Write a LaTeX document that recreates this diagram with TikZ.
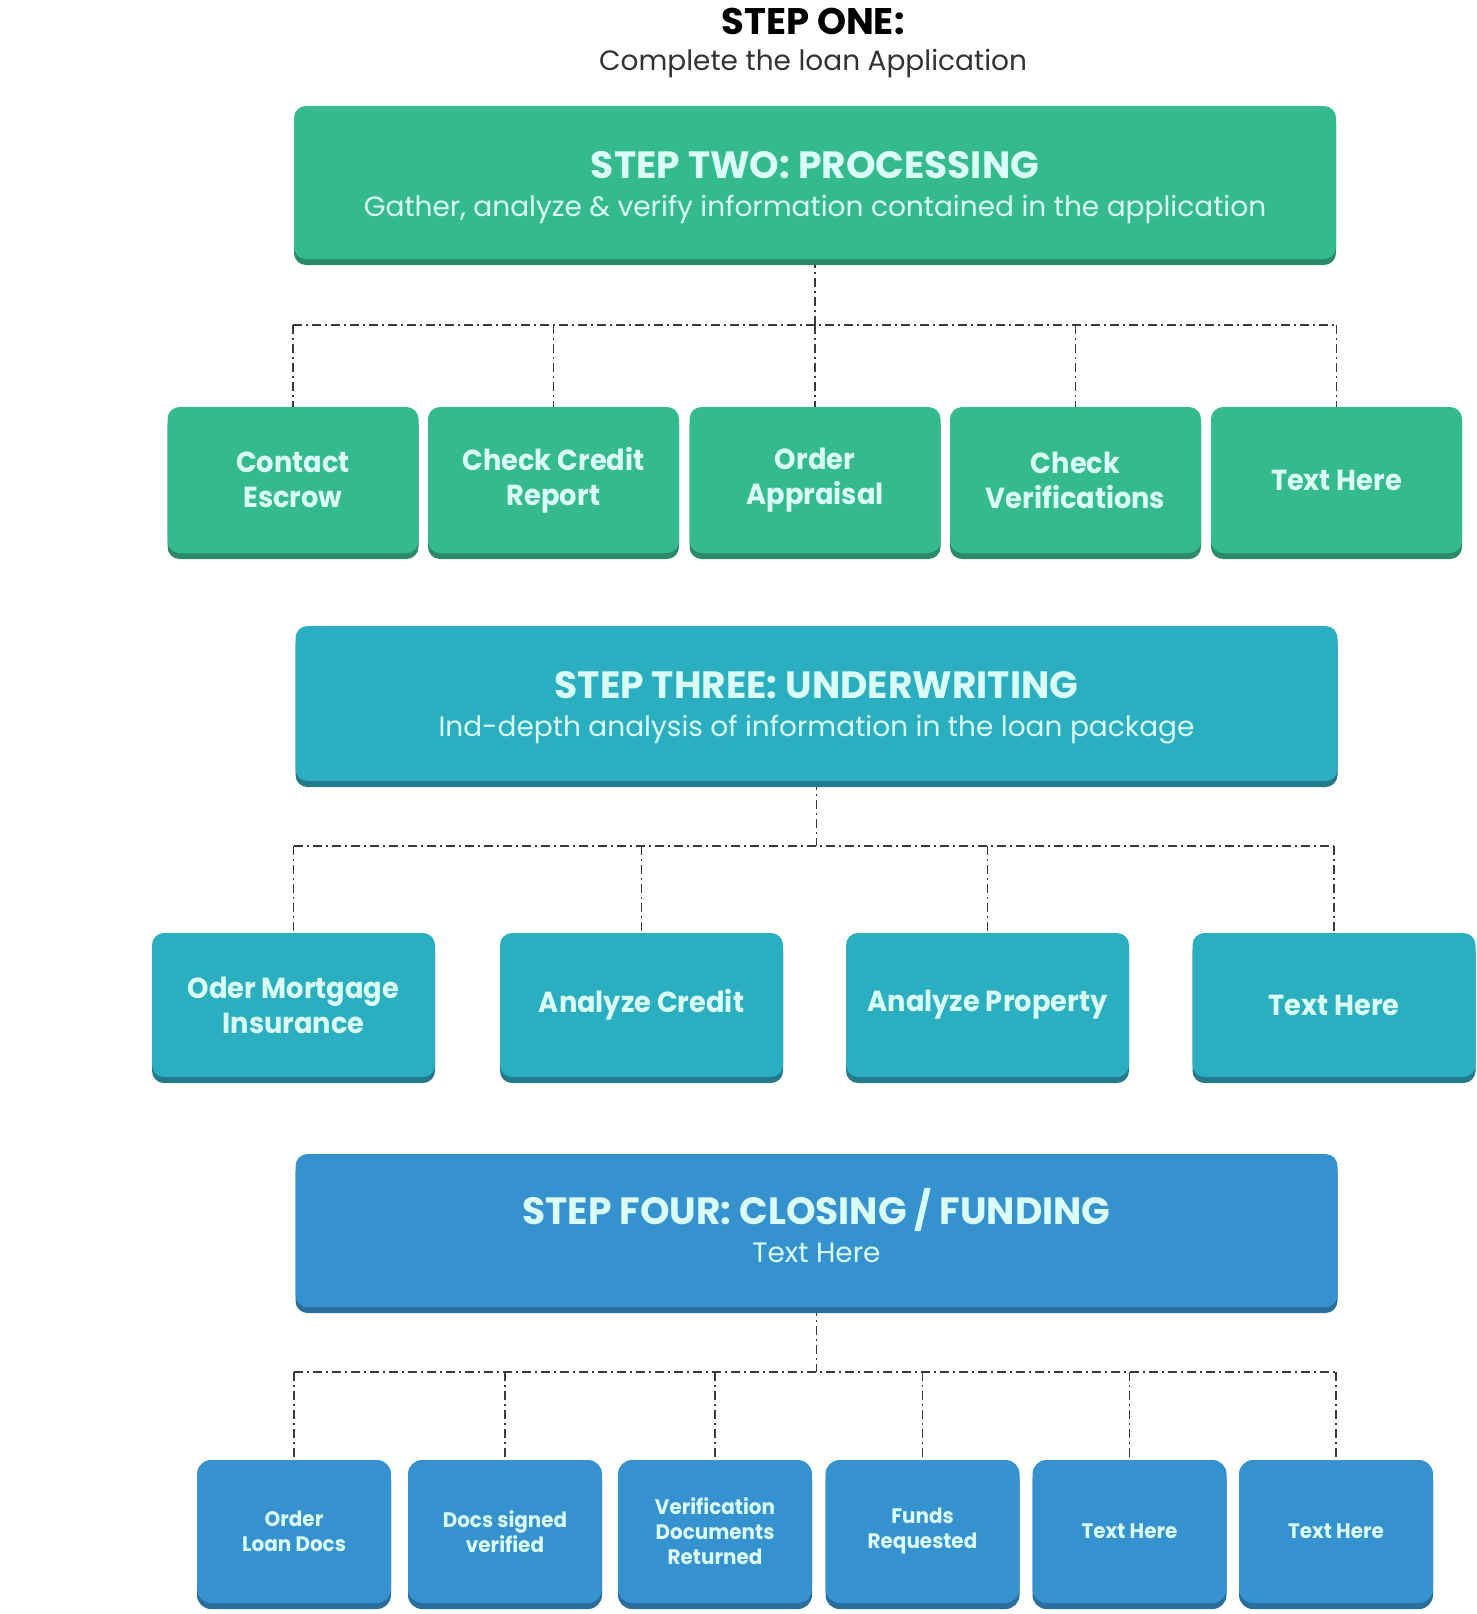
\documentclass[tikz,border=0pt]{standalone}
\usepackage{fontspec}
\setmainfont{Poppins}
\newfontfamily\topfont{Poppins}
\newfontfamily\headfont[FakeStretch=0.99]{Poppins}
\newfontfamily\subfont{Poppins}
\newfontfamily\boxfont[FakeStretch=0.94]{Poppins}
\newfontfamily\smallfont[FakeStretch=0.95]{Poppins}
\usetikzlibrary{backgrounds}

\definecolor{gfill}{HTML}{35BA8D}
\definecolor{gdark}{HTML}{2B8A6C}
\definecolor{tfill}{HTML}{2AAEC0}
\definecolor{tdark}{HTML}{24798A}
\definecolor{bfill}{HTML}{3592CF}
\definecolor{bdark}{HTML}{296E9C}
\definecolor{mint}{HTML}{D9FFF6}
\definecolor{linec}{HTML}{3A3A3A}

\begin{document}
\begin{tikzpicture}[x=1pt,y=-1pt,
  card/.style={rounded corners=12pt, inner sep=0pt, draw=none,
    text=mint, align=center,
    preaction={fill=#1dark, transform canvas={yshift=-6pt}},
    fill=#1fill},
  bigbox/.style={card=#1, minimum width=1042, minimum height=153},
  box1/.style={card=g, minimum width=251, minimum height=146,
    font=\boxfont\bfseries\fontsize{29}{35}\selectfont},
  box2/.style={card=t, minimum width=283, minimum height=144,
    font=\boxfont\bfseries\fontsize{29}{35}\selectfont},
  box3/.style={card=b, minimum width=194, minimum height=143, rounded corners=14pt,
    font=\smallfont\bfseries\fontsize{21}{25}\selectfont},
  bigtitle/.style={text=mint, inner sep=0pt, font=\headfont\bfseries\fontsize{38}{38}\selectfont},
  bigsub/.style={text=mint, inner sep=0pt, font=\subfont\fontsize{28}{28}\selectfont},
  conn/.style={draw=linec, line width=1.5pt, dash pattern=on 9pt off 4pt on 2pt off 4pt}
]
\useasboundingbox (0,0) rectangle (1477,1614);

% heading
\node[inner sep=0pt, text=black, font=\topfont\bfseries\fontsize{37}{37}\selectfont] (h1) at (813,21) {STEP ONE:};
\node[inner sep=0pt, text=black!80, font=\topfont\fontsize{28}{28}\selectfont] (h2) at (813,63) {Complete the loan Application};

% step two
\node[bigbox=g] (s2) at (815,182.5) {};
\node[bigtitle] (s2t) at (815,165) {STEP TWO: PROCESSING};
\node[bigsub] (s2s) at (815,209) {Gather, analyze \& verify information contained in the application};

\node[box1] (c11) at (293,480)   {Contact\\Escrow};
\node[box1] (c12) at (553.5,480) {Check Credit\\Report};
\node[box1] (c13) at (815,480)   {Order\\Appraisal};
\node[box1] (c14) at (1075.5,480){Check\\Verifications};
\node[box1] (c15) at (1336.5,480){Text Here};

% step three
\node[bigbox=t, minimum height=155] (s3) at (816.5,703.5) {};
\node[bigtitle] (s3t) at (816.5,685) {STEP THREE: UNDERWRITING};
\node[bigsub] (s3s) at (816.5,730) {Ind-depth analysis of information in the loan package};

\node[box2] (c21) at (293.5,1005) {Oder Mortgage\\Insurance};
\node[box2] (c22) at (641.5,1005) {Analyze Credit};
\node[box2] (c23) at (987.5,1005) {Analyze Property};
\node[box2] (c24) at (1334,1005)  {Text Here};

% step four
\node[bigbox=b] (s4) at (816.5,1230.5) {};
\node[bigtitle] (s4t) at (816.5,1210) {STEP FOUR: CLOSING / FUNDING};
\node[bigsub] (s4s) at (816.5,1253) {Text Here};

\node[box3] (c31) at (294,1531.5)    {Order\\Loan Docs};
\node[box3] (c32) at (505,1531.5)    {Docs signed\\verified};
\node[box3] (c33) at (715,1531.5)    {Verification\\Documents\\Returned};
\node[box3] (c34) at (922.5,1531.5)  {Funds\\Requested};
\node[box3] (c35) at (1129.5,1531.5) {Text Here};
\node[box3] (c36) at (1336,1531.5)   {Text Here};

% bus junctions
\coordinate (j2) at (815,325);
\coordinate (j3) at (816.5,846);
\coordinate (j4) at (816.5,1372);

\begin{scope}[on background layer]
  \draw[conn] (s2.south) -- (j2);
  \draw[conn] (c11.north |- j2) -- (c15.north |- j2);
  \foreach \c in {c11,c12,c13,c14,c15} \draw[conn] (\c.north |- j2) -- (\c.north);

  \draw[conn] (s3.south) -- (j3);
  \draw[conn] (c21.north |- j3) -- (c24.north |- j3);
  \foreach \c in {c21,c22,c23,c24} \draw[conn] (\c.north |- j3) -- (\c.north);

  \draw[conn] (s4.south) -- (j4);
  \draw[conn] (c31.north |- j4) -- (c36.north |- j4);
  \foreach \c in {c31,c32,c33,c34,c35,c36} \draw[conn] (\c.north |- j4) -- (\c.north);
\end{scope}
\end{tikzpicture}
\end{document}
